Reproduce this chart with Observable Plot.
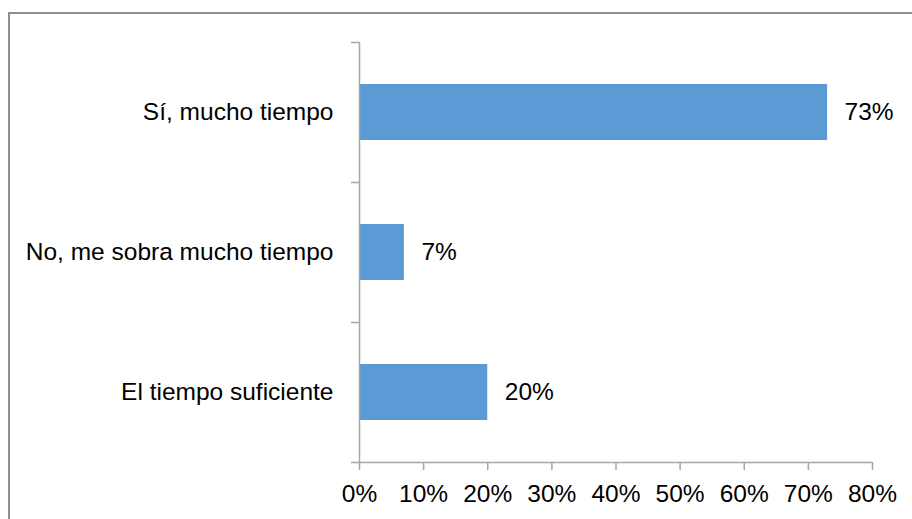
<!DOCTYPE html>
<html>
<head>
<meta charset="utf-8">
<script src="https://cdn.jsdelivr.net/npm/d3@7"></script>
<script src="https://cdn.jsdelivr.net/npm/@observablehq/plot@0.6"></script>
<style>
  html, body { margin: 0; padding: 0; background: #fff; overflow: hidden; }
  #wrap { position: relative; width: 912px; height: 519px; overflow: hidden; }
  #border { position: absolute; left: 8px; top: 12px; width: 1000px; height: 1000px;
            border-left: 2px solid #8f8f8f; border-top: 2px solid #8f8f8f; box-sizing: border-box; }
  #chart { position: absolute; left: 0; top: 0; }
</style>
</head>
<body>
<div id="wrap"><div id="border"></div><div id="chart"></div></div>
<script>
const categories = ["El tiempo suficiente", "No, me sobra mucho tiempo", "Sí, mucho tiempo"];
const values = [0.20, 0.07, 0.73];
const xTicks = [0, 0.1, 0.2, 0.3, 0.4, 0.5, 0.6, 0.7, 0.8];

const data = categories.map((c, i) => ({category: c, value: values[i], pos: i}));
const pct = d3.format(".0%");
const axisColor = "#a6a6a6";

const chart = Plot.plot({
  width: 912,
  height: 519,
  marginLeft: 359,
  marginRight: 40,
  marginTop: 42,
  marginBottom: 57,
  style: {fontFamily: "'Liberation Sans', Arial, sans-serif", fontSize: "24.5px", background: "transparent", color: "#000", overflow: "visible"},
  x: {domain: [0, 0.8]},
  y: {domain: [0, categories.length]},
  marks: [
    Plot.rectX(data, {x1: 0, x2: "value", y1: d => d.pos + 0.3, y2: d => d.pos + 0.7, fill: "#5b9bd5"}),
    Plot.ruleX([0], {stroke: axisColor, strokeWidth: 1.5}),
    Plot.ruleY([0], {stroke: axisColor, strokeWidth: 1.5}),
    Plot.axisX({ticks: xTicks, tickFormat: pct, tickSize: 8, tickPadding: 14, stroke: axisColor, strokeWidth: 1.5, strokeOpacity: 1, fill: "#000", label: null, fontSize: 24.5}),
    Plot.axisY({ticks: [0, 1, 2, 3], tickSize: 8, tickFormat: () => "", stroke: axisColor, strokeWidth: 1.5, strokeOpacity: 1, label: null}),
    Plot.text(data, {x: 0, y: d => d.pos + 0.5, text: "category", textAnchor: "end", dx: -26, fill: "#000", fontSize: 24.5}),
    Plot.text(data, {x: "value", y: d => d.pos + 0.5, text: d => pct(d.value), textAnchor: "start", dx: 17, fill: "#000", fontSize: 24.5})
  ]
});
document.getElementById("chart").appendChild(chart);
</script>
</body>
</html>
